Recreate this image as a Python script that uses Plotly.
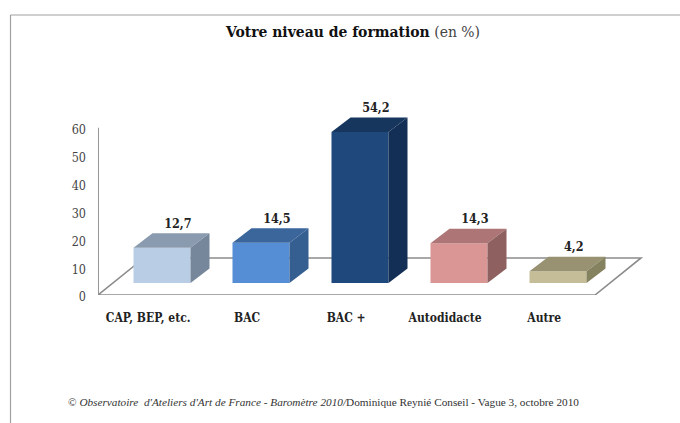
import plotly.graph_objects as go

categories = ["CAP, BEP, etc.", "BAC", "BAC +", "Autodidacte", "Autre"]
values = [12.7, 14.5, 54.2, 14.3, 4.2]
front_colors = ["#B9CDE5", "#558ED5", "#1F497D", "#D99694", "#C4BD97"]
top_colors = ["#8A9BB0", "#3A669C", "#17365D", "#AD7575", "#989272"]
side_colors = ["#77879B", "#365F91", "#132F55", "#8F6060", "#85825F"]
y_ticks = [0, 10, 20, 30, 40, 50, 60]

W, H = 680, 423
ML, MR, MT, MB = 98, 30, 100, 128
PITCH = 99.0
X0 = 162.0
XMIN = (ML - X0) / PITCH
XMAX = (W - MR - X0) / PITCH
YMAX = 70
BAR_W = 57 / PITCH
DX = 19 / PITCH
DY = 5.2
FLOOR = 4.3
GRAY = "#8C8C8C"
SERIF = "DejaVu Serif Condensed, Liberation Serif, serif"

fig = go.Figure()

# value axis
fig.add_trace(go.Scatter(x=[XMIN, XMIN], y=[0, 60], mode="lines",
                         line=dict(color=GRAY, width=1.8), hoverinfo="skip", cliponaxis=False))

# front faces
fig.add_trace(go.Bar(x=list(range(5)), y=values, base=[FLOOR] * 5, width=BAR_W,
                     marker=dict(color=front_colors, line=dict(width=0)), hoverinfo="skip"))

# top and side faces
for i, v in enumerate(values):
    l, r = i - BAR_W / 2, i + BAR_W / 2
    t, b = FLOOR + v, FLOOR
    fig.add_trace(go.Scatter(x=[l, r, r + DX, l + DX, l], y=[t, t, t + DY, t + DY, t],
                             mode="lines", fill="toself", fillcolor=top_colors[i],
                             line=dict(width=0), hoverinfo="skip"))
    fig.add_trace(go.Scatter(x=[r, r + DX, r + DX, r, r], y=[b, b + DY, t + DY, t, b],
                             mode="lines", fill="toself", fillcolor=side_colors[i],
                             line=dict(width=0), hoverinfo="skip"))

# value labels
fig.add_trace(go.Scatter(
    x=[i + 0.16 for i in range(5)],
    y=[FLOOR + v + DY + 0.8 for v in values],
    text=[str(v).replace(".", ",") for v in values],
    mode="text", textposition="top center",
    textfont=dict(family=SERIF, size=12.5, color="#222222", weight="bold"),
    hoverinfo="skip", cliponaxis=False))

# floor of the 3D scene, kept beneath the bars
fx = [XMIN, (595 - X0) / PITCH, (641 - X0) / PITCH, (144 - X0) / PITCH]
fy = [0, 0, 13.3, 13.3]
floor_path = "M " + " L ".join(f"{a},{b}" for a, b in zip(fx, fy)) + " Z"

pw, ph = W - ML - MR, H - MT - MB
frame_x = (10.5 - ML) / pw
frame_y = 1 + (MT - 15) / ph

fig.update_layout(
    width=W, height=H, margin=dict(l=ML, r=MR, t=MT, b=MB),
    showlegend=False, plot_bgcolor="white", paper_bgcolor="white", barmode="overlay",
    xaxis=dict(range=[XMIN, XMAX], tickmode="array",
               tickvals=[i - 0.14 for i in range(5)], ticktext=categories,
               showgrid=False, zeroline=False, showline=False, ticks="",
               ticklabelstandoff=14,
               tickfont=dict(family=SERIF, size=12, color="#222222", weight="bold")),
    yaxis=dict(range=[0, YMAX], tickmode="array", tickvals=y_ticks,
               showgrid=False, zeroline=False, showline=False, ticks="",
               ticklabelstandoff=11, ticklabelshift=2,
               tickfont=dict(family=SERIF, size=12.5, color="#444444")),
    annotations=[
        dict(xref="paper", yref="paper", x=(352 - ML) / pw, y=1 + (MT - 32) / ph,
             xanchor="center", yanchor="middle", showarrow=False,
             text="<b>Votre niveau de formation</b> <span style='color:#444444'>(en %)</span>",
             font=dict(family=SERIF, size=15.5, color="#111111")),
        dict(xref="paper", yref="paper", x=(66 - ML) / pw, y=-(402 - 295) / ph,
             xanchor="left", yanchor="middle", showarrow=False,
             text="© <i>Observatoire  d'Ateliers d'Art de France - Baromètre 2010/</i>Dominique Reynié Conseil - Vague 3, octobre 2010",
             font=dict(family="Liberation Serif, serif", size=11.25, color="#333333")),
    ],
    shapes=[
        dict(type="path", path=floor_path, xref="x", yref="y", layer="below",
             fillcolor="white", line=dict(color=GRAY, width=1.6)),
        dict(type="line", xref="paper", yref="paper", x0=frame_x, x1=frame_x,
             y0=frame_y, y1=-(H - 295) / ph, line=dict(color="#A0A0A0", width=1.2)),
        dict(type="line", xref="paper", yref="paper", x0=frame_x, x1=(W - ML) / pw,
             y0=frame_y, y1=frame_y, line=dict(color="#A0A0A0", width=1.2)),
    ],
)

fig.write_html("out.html", config=dict(displayModeBar=False),
               post_script="document.body.style.margin='0';document.documentElement.style.overflow='hidden';")
